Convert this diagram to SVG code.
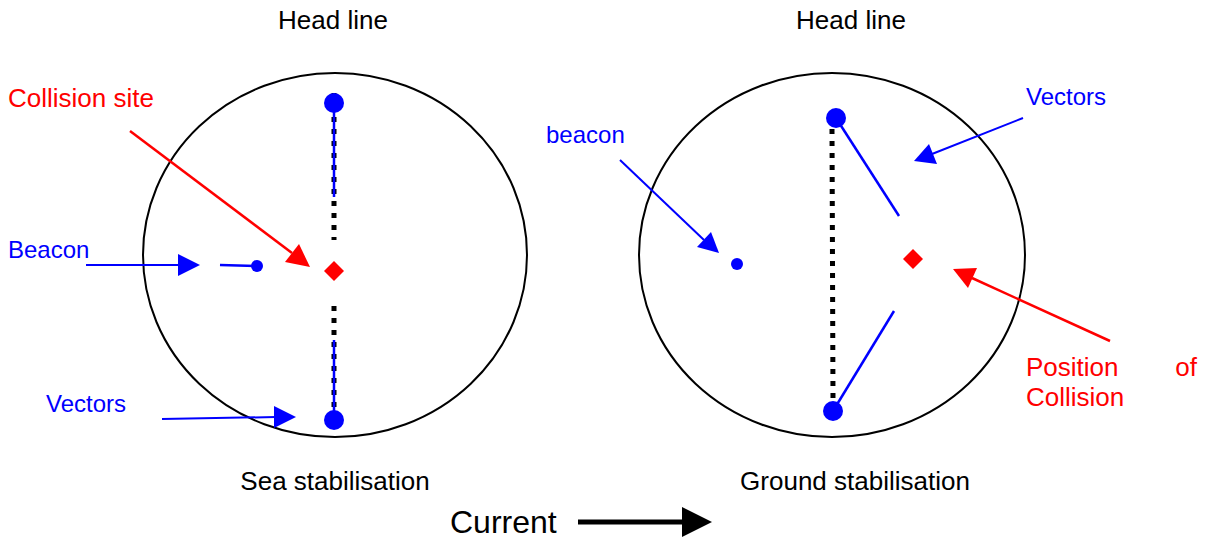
<svg xmlns="http://www.w3.org/2000/svg" width="1213" height="542" viewBox="0 0 1213 542">
<style>
text{font-family:"Liberation Sans",Arial,sans-serif;}
.lbl{font-size:26px;fill:#000;}
.red{font-size:26px;fill:#ff0000;}
.blue{font-size:24px;fill:#0000ff;}
.circ{fill:none;stroke:#000;stroke-width:2;}
.dots{stroke:#000;stroke-width:5;stroke-dasharray:5 7;fill:none;}
.vec{stroke:#0000ff;stroke-width:2.5;fill:none;}
.bl{stroke:#0000ff;stroke-width:2;fill:none;}
.rl{stroke:#ff0000;stroke-width:2.5;fill:none;}
</style>
<g id="left-diagram">
<text class="lbl" x="333" y="29" text-anchor="middle">Head line</text>
<ellipse class="circ" cx="335" cy="255" rx="192" ry="182"/>
<line class="dots" x1="334" y1="93" x2="334" y2="240"/>
<line class="dots" x1="334" y1="306" x2="334" y2="410"/>
<line class="vec" x1="334" y1="103" x2="334" y2="197"/>
<line class="vec" x1="334" y1="340" x2="334" y2="420"/>
<circle cx="334" cy="103" r="10" fill="#0000ff"/>
<circle cx="334" cy="420" r="10" fill="#0000ff"/>
<line class="vec" x1="220" y1="265" x2="257" y2="266"/>
<circle cx="257" cy="266" r="6" fill="#0000ff"/>
<path d="M334,261 L344,271 L334,281 L324,271 Z" fill="#ff0000"/>
<text class="lbl" x="335" y="490" text-anchor="middle">Sea stabilisation</text>
</g>
<g id="right-diagram">
<text class="lbl" x="851" y="29" text-anchor="middle">Head line</text>
<ellipse class="circ" cx="832" cy="255" rx="193" ry="182"/>
<line class="dots" x1="832" y1="129" x2="833" y2="400"/>
<line class="vec" x1="836" y1="118" x2="899" y2="216"/>
<line class="vec" x1="894" y1="311" x2="833" y2="411"/>
<circle cx="836" cy="118" r="10" fill="#0000ff"/>
<circle cx="833" cy="411" r="10" fill="#0000ff"/>
<circle cx="737" cy="264" r="6" fill="#0000ff"/>
<path d="M913,249 L923,259 L913,269 L903,259 Z" fill="#ff0000"/>
<text class="lbl" x="855" y="490" text-anchor="middle">Ground stabilisation</text>
</g>
<g id="labels">
<text class="red" x="8" y="107">Collision site</text>
<text class="blue" x="8" y="258">Beacon</text>
<text class="blue" x="46" y="412">Vectors</text>
<text class="blue" x="546" y="143">beacon</text>
<text class="blue" x="1026" y="105">Vectors</text>
<text class="red" x="1026" y="376">Position</text>
<text class="red" x="1197" y="376" text-anchor="end">of</text>
<text class="red" x="1026" y="406">Collision</text>
<text x="450" y="533" font-size="32" fill="#000">Current</text>
</g>
<g id="connectors">
<line class="bl" x1="86" y1="265" x2="180" y2="265"/>
<path d="M178,254 L200,265 L178,276 Z" fill="#0000ff"/>
<line class="bl" x1="162" y1="419" x2="276" y2="417"/>
<path d="M274,406 L296,417 L274,428 Z" fill="#0000ff"/>
<line class="rl" x1="130" y1="131" x2="292" y2="253"/>
<path d="M310,267 L285,262 L299,244 Z" fill="#ff0000"/>
<line class="bl" x1="620" y1="160" x2="704" y2="240"/>
<path d="M719,253 L697,247 L711,232 Z" fill="#0000ff"/>
<line class="bl" x1="1023" y1="118" x2="932" y2="154"/>
<path d="M914,161 L929,144 L937,164 Z" fill="#0000ff"/>
<line class="rl" x1="1110" y1="341" x2="972" y2="278"/>
<path d="M953,269 L977,268 L968,288 Z" fill="#ff0000"/>
<line x1="578" y1="522" x2="685" y2="522" stroke="#000" stroke-width="5"/>
<path d="M682,507 L712,522 L682,537 Z" fill="#000"/>
</g>
</svg>
